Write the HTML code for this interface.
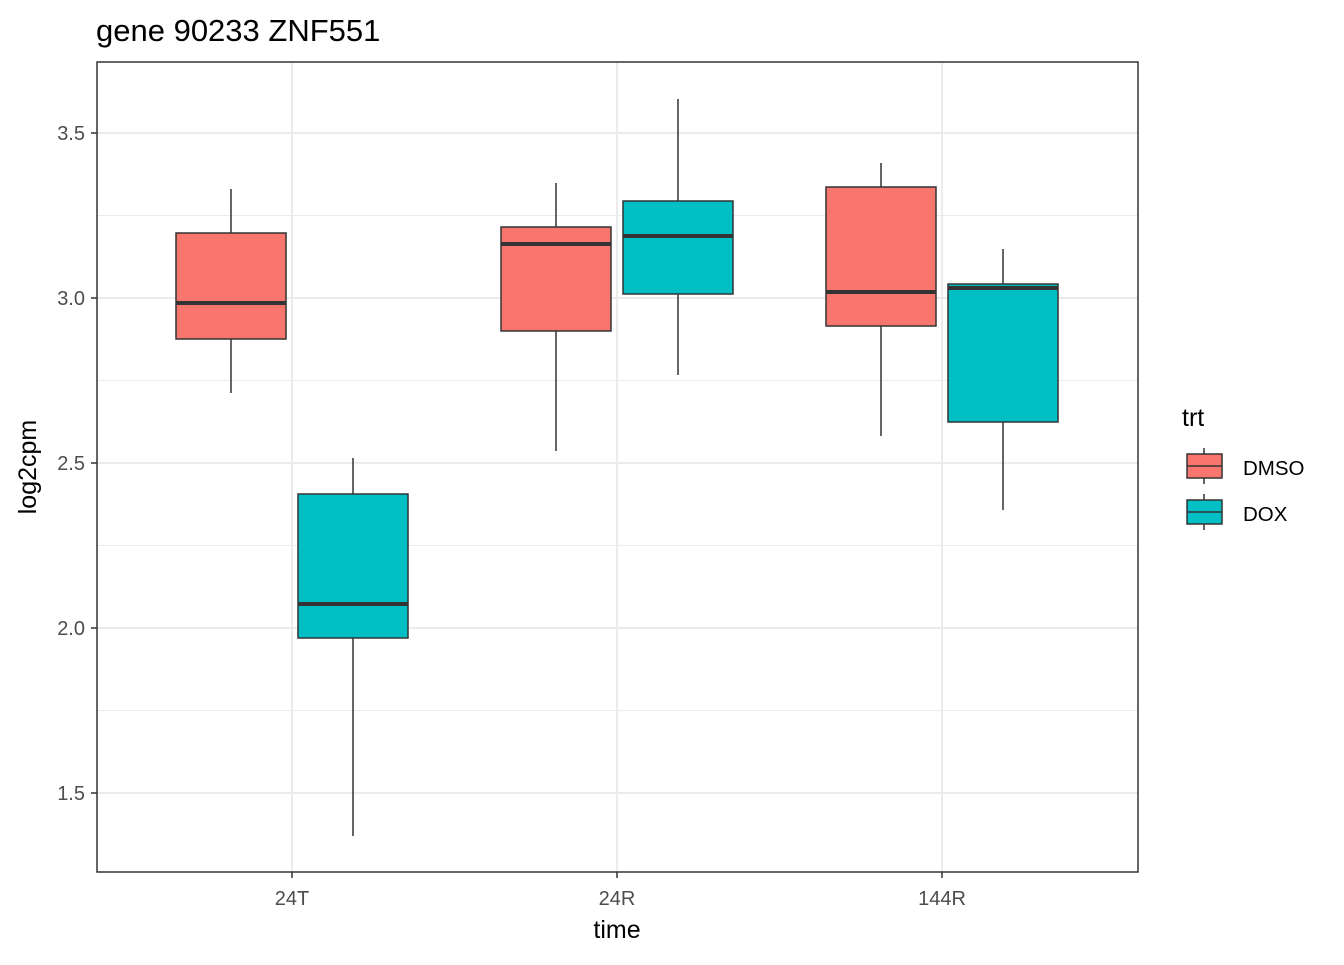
<!DOCTYPE html>
<html><head><meta charset="utf-8"><style>body{margin:0;background:#fff}</style></head><body>
<svg width="1344" height="960" xmlns="http://www.w3.org/2000/svg" font-family="Liberation Sans, Arial, sans-serif">
<rect width="1344" height="960" fill="#fff"/>
<g stroke="#ebebeb" stroke-width="1">
<line x1="97" x2="1138" y1="215.5" y2="215.5"/><line x1="97" x2="1138" y1="380.5" y2="380.5"/>
<line x1="97" x2="1138" y1="545.5" y2="545.5"/><line x1="97" x2="1138" y1="710.5" y2="710.5"/>
</g>
<g stroke="#ebebeb" stroke-width="2">
<line x1="97" x2="1138" y1="133" y2="133"/><line x1="97" x2="1138" y1="298" y2="298"/>
<line x1="97" x2="1138" y1="463" y2="463"/><line x1="97" x2="1138" y1="628" y2="628"/>
<line x1="97" x2="1138" y1="793" y2="793"/>
<line x1="292" x2="292" y1="62" y2="872"/><line x1="617" x2="617" y1="62" y2="872"/><line x1="942" x2="942" y1="62" y2="872"/>
</g>
<g stroke="#333" stroke-width="1.5">
<line x1="231" x2="231" y1="189" y2="393"/><rect x="176" y="233" width="110" height="106" fill="#F8766D"/><line x1="176" x2="286" y1="303" y2="303" stroke-width="4"/>
<line x1="353" x2="353" y1="458" y2="836"/><rect x="298" y="494" width="110" height="144" fill="#00BFC4"/><line x1="298" x2="408" y1="604" y2="604" stroke-width="4"/>
<line x1="556" x2="556" y1="183" y2="451"/><rect x="501" y="227" width="110" height="104" fill="#F8766D"/><line x1="501" x2="611" y1="244" y2="244" stroke-width="4"/>
<line x1="678" x2="678" y1="99" y2="375"/><rect x="623" y="201" width="110" height="93" fill="#00BFC4"/><line x1="623" x2="733" y1="236" y2="236" stroke-width="4"/>
<line x1="881" x2="881" y1="163" y2="436"/><rect x="826" y="187" width="110" height="139" fill="#F8766D"/><line x1="826" x2="936" y1="292" y2="292" stroke-width="4"/>
<line x1="1003" x2="1003" y1="249" y2="510"/><rect x="948" y="284" width="110" height="138" fill="#00BFC4"/><line x1="948" x2="1058" y1="288" y2="288" stroke-width="4"/>
</g>
<rect x="97" y="62" width="1041" height="810" fill="none" stroke="#333" stroke-width="1.5"/>
<g stroke="#333" stroke-width="1.5">
<line x1="91" x2="97" y1="133" y2="133"/><line x1="91" x2="97" y1="298" y2="298"/><line x1="91" x2="97" y1="463" y2="463"/><line x1="91" x2="97" y1="628" y2="628"/><line x1="91" x2="97" y1="793" y2="793"/>
<line x1="292" x2="292" y1="872" y2="878"/><line x1="617" x2="617" y1="872" y2="878"/><line x1="942" x2="942" y1="872" y2="878"/>
</g>
<g font-size="20" fill="#4d4d4d" text-anchor="end">
<text x="85" y="140">3.5</text><text x="85" y="305">3.0</text><text x="85" y="470">2.5</text><text x="85" y="635">2.0</text><text x="85" y="800">1.5</text>
</g>
<g font-size="20" fill="#4d4d4d" text-anchor="middle">
<text x="292" y="905">24T</text><text x="617" y="905">24R</text><text x="942" y="905">144R</text>
</g>
<text x="617" y="938" font-size="25" text-anchor="middle">time</text>
<text transform="translate(36,467) rotate(-90)" font-size="25" text-anchor="middle">log2cpm</text>
<text x="96" y="41" font-size="31">gene 90233 ZNF551</text>
<text x="1182" y="426" font-size="25">trt</text>
<g stroke="#333" stroke-width="1.5">
<line x1="1204" x2="1204" y1="448" y2="484"/><rect x="1187" y="454" width="35" height="24" fill="#F8766D"/><line x1="1187" x2="1222" y1="466" y2="466"/>
<line x1="1204" x2="1204" y1="494" y2="530"/><rect x="1187" y="500" width="35" height="24" fill="#00BFC4"/><line x1="1187" x2="1222" y1="512" y2="512"/>
</g>
<text x="1243" y="475" font-size="20.5">DMSO</text><text x="1243" y="521" font-size="20.5">DOX</text>
</svg>
</body></html>
